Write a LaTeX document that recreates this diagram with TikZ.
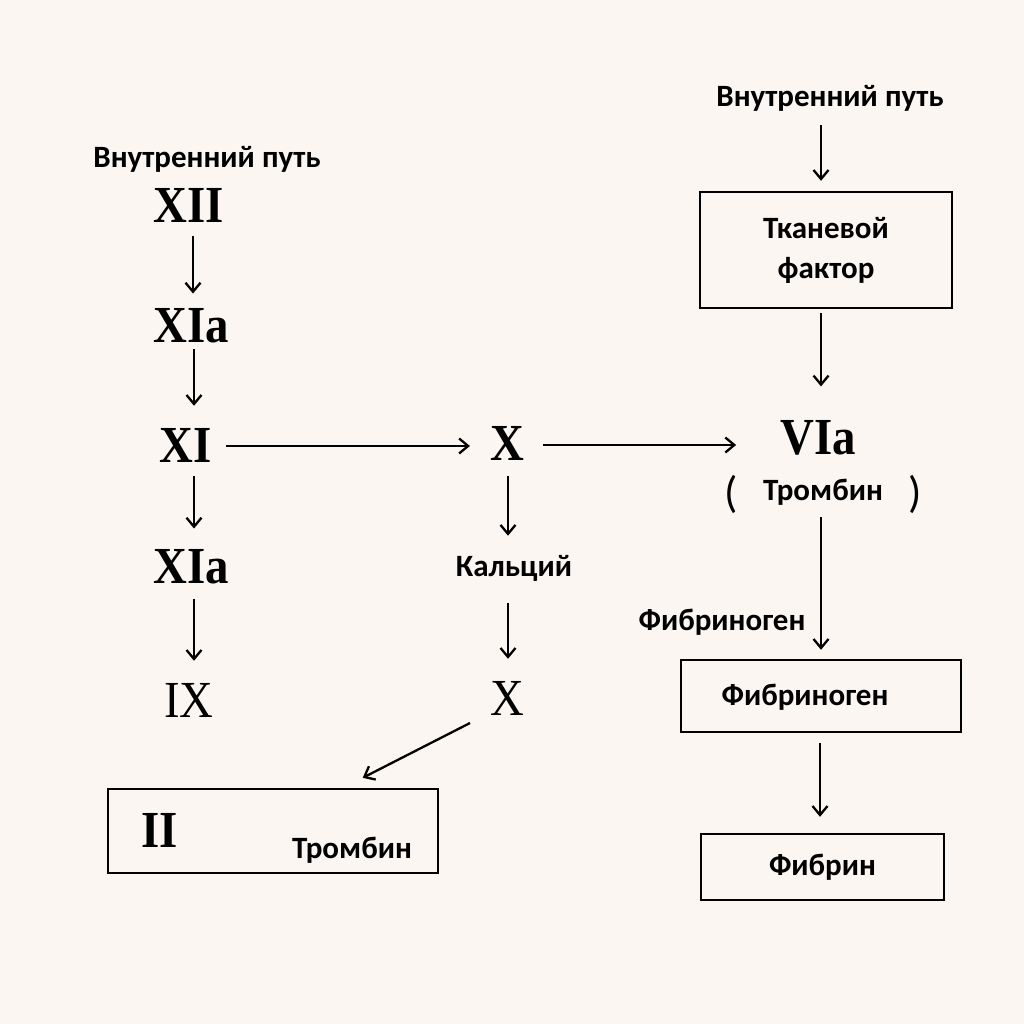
\documentclass[tikz,border=0pt]{standalone}
\usepackage{fontspec}
\setmainfont{Carlito}
\newfontfamily\numfont[FakeStretch=0.9]{Liberation Serif}
\usetikzlibrary{arrows.meta,calc}
\definecolor{bgc}{RGB}{251,246,241}
\begin{document}
\begin{tikzpicture}[x=1pt,y=1pt,
  lbl/.style={font=\bfseries\fontsize{31}{40}\selectfont, inner sep=0pt},
  numb/.style={font=\numfont\bfseries\fontsize{52}{54}\selectfont, inner sep=0pt},
  numr/.style={font=\numfont\fontsize{52}{54}\selectfont, inner sep=0pt},
  paren/.style={font=\fontsize{44}{48}\selectfont, inner sep=0pt},
  box/.style={draw, line width=2.4pt, inner sep=0pt},
  arr/.style={line width=2.3pt, -{Straight Barb[length=9pt,width=15pt]}}]
\fill[bgc] (0,0) rectangle (1024,-1024);
\useasboundingbox (0,0) rectangle (1024,-1024);

% left column
\node[lbl] (inL) at (207,-159) {Внутренний путь};
\node[numb] (XII) at (189,-205) {XII};
\node[numb] (XIa) at (191,-326) {XIa};
\node[numb] (XI) at (186,-445) {XI};
\node[numb] (XIb) at (191,-567) {XIa};
\node[numr] (IX) at (189,-700) {IX};

% middle column
\node[numb] (X) at (507,-443) {X};
\node[lbl] (Ca) at (514,-568) {Кальций};
\node[numr] (Xb) at (507,-698) {X};

% box II
\node[box, minimum width=330pt, minimum height=84pt] (IIbox) at (273,-831) {};
\node[numb] (II) at (160,-830) {II};
\node[lbl] (IItr) at (352,-850) {Тромбин};

% right column
\node[lbl] (inR) at (830,-98) {Внутренний путь};
\node[box, lbl, minimum width=252pt, minimum height=116pt, align=center] (tk) at (826,-250) {Тканевой\\фактор};
\node[numb] (VIa) at (818,-438) {VIa};
\node[lbl] (tromb) at (823,-492) {Тромбин};
\node[paren] (lp) at (731,-494) {(};
\node[paren] (rp) at (915,-494) {)};
\node[lbl] (fglbl) at (722,-622) {Фибриноген};
\node[box, minimum width=280pt, minimum height=72pt] (fgbox) at (821,-696) {};
\node[lbl] (fgtext) at (805,-697) {Фибриноген};
\node[box, lbl, minimum width=243pt, minimum height=66pt] (fbbox) at (822.5,-867) {Фибрин};

% arrows left column
\draw[arr, shorten <=14pt, shorten >=15pt] ([xshift=4pt]XII.south) -- ([xshift=4pt]XII.south |- XIa.north);
\draw[arr, shorten <=6pt, shorten >=22pt] ([xshift=3pt]XIa.south) -- ([xshift=3pt]XIa.south |- XI.north);
\draw[arr, shorten <=14pt, shorten >=21pt] ([xshift=8pt]XI.south) -- ([xshift=8pt]XI.south |- XIb.north);
\draw[arr, shorten <=15pt, shorten >=22pt] ([xshift=3pt]XIb.south) -- ([xshift=3pt]XIb.south |- IX.north);

% horizontal arrows
\draw[arr, shorten <=14pt, shorten >=20pt] ([yshift=-1pt]XI.east) -- ([yshift=-1pt]XI.east -| X.west);
\draw[arr, shorten <=19pt, shorten >=44pt] ([yshift=-2pt]X.east) -- ([yshift=-2pt]X.east -| VIa.west);

% middle column
\draw[arr, shorten <=16pt, shorten >=19pt] ([xshift=1pt]X.south) -- ([xshift=1pt]X.south |- Ca.north);
\draw[arr, shorten <=22pt, shorten >=22pt] ([xshift=1pt]Ca.south -| Xb.north) -- ([xshift=1pt]Xb.north);
\draw[arr] ($(Xb.center)+(-37,-25)$) -- ($(IIbox.north west)!0.77!(IIbox.north east)+(0,10)$);

% right column
\draw[arr, shorten <=14pt, shorten >=10pt] ([xshift=-5pt]tk.north |- inR.south) -- ([xshift=-5pt]tk.north);
\draw[arr, shorten <=4pt, shorten >=34pt] ([xshift=-5pt]tk.south) -- ([xshift=-5pt]tk.south |- VIa.north);
\draw[arr, shorten <=12pt, shorten >=9pt] (tromb.south -| fgbox.north) -- (fgbox.north);
\draw[arr, shorten <=10pt, shorten >=16pt] ([xshift=-1pt]fgbox.south) -- ([xshift=-1pt]fgbox.south |- fbbox.north);
\end{tikzpicture}
\end{document}
